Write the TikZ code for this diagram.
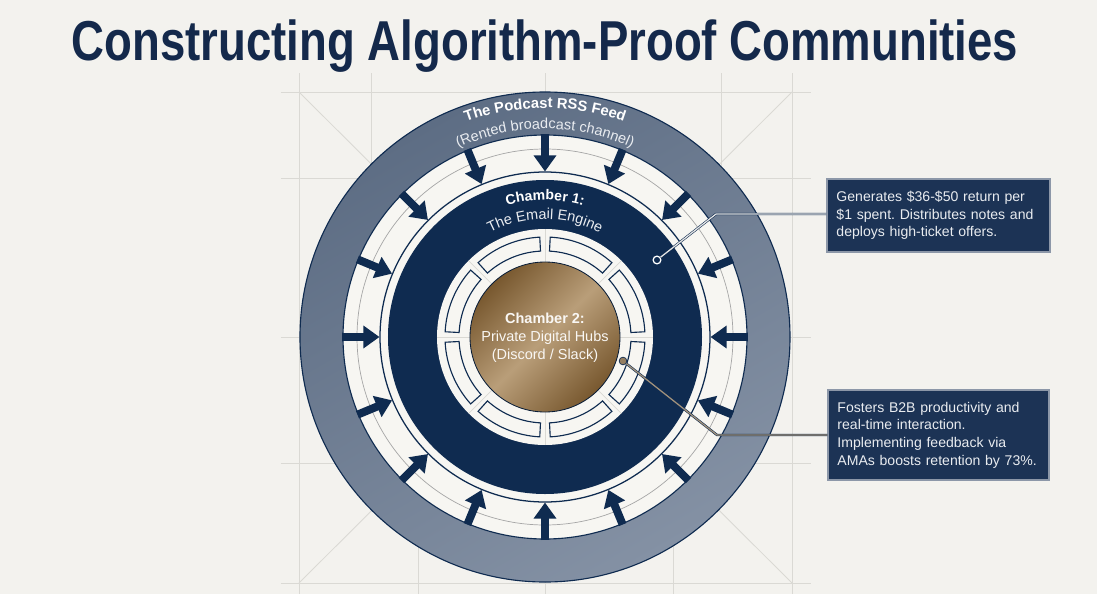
\documentclass[tikz,border=0pt]{standalone}
\usepackage{fontspec}
\setmainfont{Liberation Sans}
\usetikzlibrary{arrows.meta,decorations.text}

\definecolor{pagebg}{HTML}{F3F2EE}
\definecolor{gridline}{HTML}{DAD9D4}
\definecolor{navy}{HTML}{0F2B50}
\definecolor{slatetop}{HTML}{5D6D84}
\definecolor{slatebot}{HTML}{8491A4}
\definecolor{ringwhite}{HTML}{F7F6F2}
\definecolor{bronzedark}{HTML}{78582F}
\definecolor{bronzelight}{HTML}{B99E79}
\definecolor{notefill}{HTML}{1C3355}
\definecolor{noteedge}{HTML}{8C97A8}
\definecolor{notetext}{HTML}{E9ECF0}
\definecolor{titleblue}{HTML}{14294B}

\tikzset{
  gridrule/.style={gridline, line width=0.6pt},
  feedarrow/.style={navy, line width=5.7pt, -{Triangle[width=15.6pt, length=11.5pt]}},
  hubslot/.style={draw=navy, fill=ringwhite, line width=0.8pt},
  notebox/.style={draw=noteedge, fill=notefill, line width=0.9pt, text=notetext,
    align=left, inner xsep=6pt, font=\fontsize{10}{12.6}\selectfont\frenchspacing},
  leader/.style={draw=navy, line width=0.4pt, double distance=0.9pt}
}

\begin{document}
\begin{tikzpicture}[x=0.025cm, y=0.025cm]
  \useasboundingbox[fill=pagebg] (-545,-257) rectangle (552,337);

  % construction grid behind the rings
  \foreach \gy in {245,159,0,-126,-246}
    \draw[gridrule] (-264,\gy) -- (266,\gy);
  \foreach \gx in {-246,0,247}
    \draw[gridrule] (\gx,264) -- (\gx,-257);
  \foreach \gx in {-174,176}
    \draw[gridrule] (\gx,264) -- (\gx,0);
  \foreach \gx in {-127,128}
    \draw[gridrule] (\gx,0) -- (\gx,-257);
  \draw[gridrule] (-246,245) -- (247,-246) (247,245) -- (-246,-246);

  % outer ring: the feed
  \shade[even odd rule, top color=slatetop, bottom color=slatebot, shading angle=30]
    (0,0) circle (245) (0,0) circle (202);
  \draw[navy, line width=0.8pt] (0,0) circle (245);
  \fill[ringwhite] (0,0) circle (202);
  \draw[navy, line width=0.8pt] (0,0) circle (202);
  \draw[gray!70, line width=0.5pt] (0,0) circle (188);
  \draw[navy, line width=0.9pt] (0,0) circle (165);
  \fill[navy] (0,0) circle (157);

  % arrows into chamber 1
  \foreach \a in {0,22.5,...,337.5}
    \draw[feedarrow] (\a:203) -- (\a:165.5);

  % chamber 2 ring
  \fill[ringwhite] (0,0) circle (108);
  \foreach \a in {0,45,...,315}
    \draw[gridline, line width=0.5pt] (\a:75) -- (\a:108);
  \foreach \a in {0,45,...,315}
    \draw[hubslot] ({\a+3}:86) arc[start angle=\a+3, end angle=\a+42, radius=86]
      -- ({\a+42}:100) arc[start angle=\a+42, end angle=\a+3, radius=100] -- cycle;
  \shade[left color=bronzedark, right color=bronzedark, middle color=bronzelight, shading angle=45]
    (0,0) circle (75);
  \draw[navy!70!black, line width=0.6pt] (0,0) circle (75);

  % ring labels
  \path[decorate, decoration={text along path, text align=center, text color=white,
    text={|\fontsize{10.5}{12}\selectfont\bfseries|The Podcast RSS Feed}}]
    (150:229) arc[start angle=150, end angle=30, radius=229];
  \path[decorate, decoration={text along path, text align=center, text color=notetext,
    text={|\fontsize{10.3}{12}\selectfont|(Rented broadcast channel)}}]
    (150:208) arc[start angle=150, end angle=30, radius=208];
  \path[decorate, decoration={text along path, text align=center, text color=white,
    text={|\fontsize{10}{12}\selectfont\bfseries|Chamber 1:}}]
    (130:137) arc[start angle=130, end angle=50, radius=137];
  \path[decorate, decoration={text along path, text align=center, text color=notetext,
    text={|\fontsize{10.3}{12}\selectfont|The Email Engine}}]
    (140:118) arc[start angle=140, end angle=40, radius=118];
  \node[align=center, text=white!92!bronzelight, font=\fontsize{10.3}{12.8}\selectfont] (hubtext) at (0,-1)
    {\textbf{Chamber 2:}\\Private Digital Hubs\\(Discord / Slack)};

  % title
  \node[anchor=base, text=titleblue, font=\fontsize{40}{44}\selectfont\bfseries] (title) at (0,276)
    {\scalebox{0.81}[1]{Constructing Algorithm-Proof Communities}};

  % callouts
  \node[notebox, minimum width=5.575cm, minimum height=1.825cm, text width=5.1cm] (emailnote) at (393.5,121.5)
    {Generates \$36-\$50 return per\\\$1 spent. Distributes notes and\\deploys high-ticket offers.};
  \node[notebox, minimum width=5.525cm, minimum height=2.25cm, text width=5.05cm] (hubnote) at (393.5,-98)
    {Fosters B2B productivity and\\real-time interaction.\\Implementing feedback via\\AMAs boosts retention by 73\%.};

  \coordinate (emailbend) at (171,123);
  \coordinate (hubbend) at (172,-98);
  \node[circle, draw=white, fill=navy, line width=0.9pt, inner sep=0pt, minimum size=5.5pt] (emaildot) at (112,77) {};
  \node[circle, draw=navy, fill=bronzelight!80!black, line width=0.5pt, inner sep=0pt, minimum size=5.5pt] (hubdot) at (78,-24) {};
  \draw[leader, double=gray!20] (emaildot) -- (emailbend) -- (emailnote.west |- emailbend);
  \draw[leader, double=bronzelight!60!gray] (hubdot) -- (hubbend) -- (hubnote.west |- hubbend);
\end{tikzpicture}
\end{document}
